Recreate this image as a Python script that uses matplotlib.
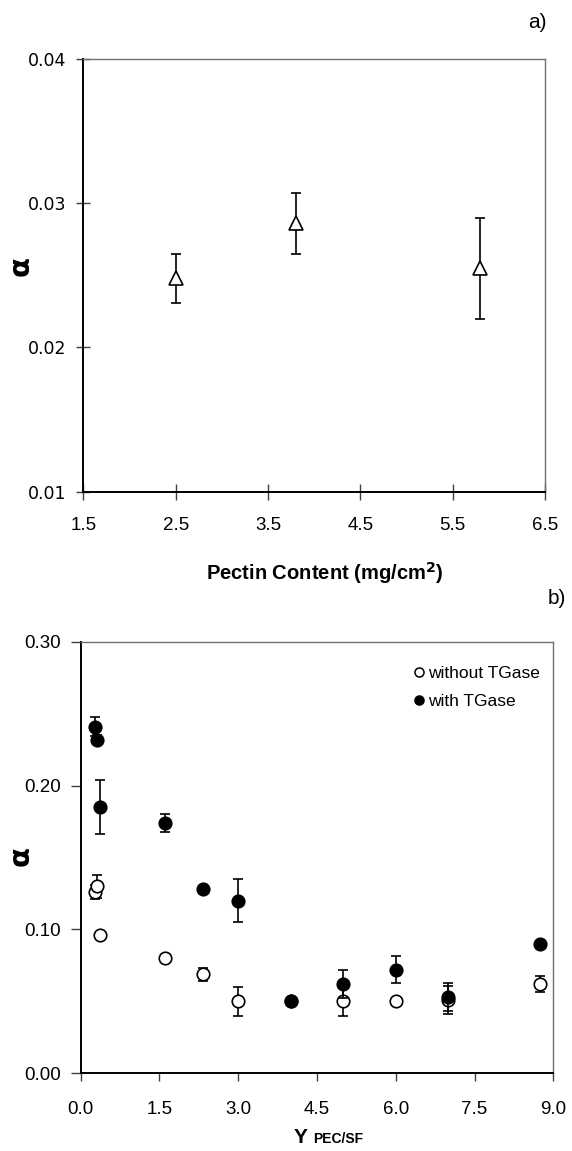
import matplotlib
matplotlib.use("Agg")
import matplotlib.pyplot as plt
from matplotlib.lines import Line2D

plt.rcParams['font.family'] = ['Liberation Sans', 'DejaVu Sans']

# (a) alpha versus pectin content
pectin_content = [2.5, 3.8, 5.8]
alpha_a = [0.0248, 0.0286, 0.0255]
alpha_a_err = [0.0017, 0.0021, 0.0035]

# (b) alpha versus Y_PEC/SF, with and without TGase
y_ratio = [0.28, 0.31, 0.36, 1.61, 2.32, 3.0, 4.0, 5.0, 6.0, 7.0, 8.75]
alpha_without = [0.126, 0.130, 0.096, 0.080, 0.069, 0.050, 0.050, 0.050, 0.050, 0.051, 0.062]
alpha_without_err = [0.005, 0.008, 0.002, 0.002, 0.0045, 0.010, 0.002, 0.010, 0.002, 0.010, 0.0055]
alpha_with = [0.241, 0.232, 0.185, 0.174, 0.128, 0.120, 0.050, 0.062, 0.072, 0.053, 0.090]
alpha_with_err = [0.0065, 0.003, 0.019, 0.0065, 0.002, 0.015, 0.002, 0.010, 0.0095, 0.010, 0.002]

xticks_a = [1.5, 2.5, 3.5, 4.5, 5.5, 6.5]
yticks_a = [0.01, 0.02, 0.03, 0.04]
xticks_b = [0.0, 1.5, 3.0, 4.5, 6.0, 7.5, 9.0]
yticks_b = [0.00, 0.10, 0.20, 0.30]

W, H = 572, 1151
fig = plt.figure(figsize=(W / 100, H / 100), dpi=100)


def px_axes(left, top, right, bottom):
    return fig.add_axes([left / W, 1 - bottom / H, (right - left) / W, (bottom - top) / H])


def style_frame(ax):
    for s in ('left', 'bottom'):
        ax.spines[s].set_color('black')
        ax.spines[s].set_linewidth(1.4)
    for s in ('top', 'right'):
        ax.spines[s].set_color('#707070')
        ax.spines[s].set_linewidth(1.0)


# ---------- panel a ----------
ax1 = px_axes(83.3, 59, 545, 491.7)
ax1.errorbar(pectin_content, alpha_a, yerr=alpha_a_err, fmt='^', ms=10,
             mfc='white', mec='black', mew=1.2, ecolor='black', elinewidth=1.2,
             capsize=3.8, capthick=1.2, color='black')
ax1.set_xlim(1.5, 6.5)
ax1.set_ylim(0.01, 0.04)
ax1.set_xticks(xticks_a)
ax1.set_xticklabels([f"{v:.1f}" for v in xticks_a])
ax1.set_yticks(yticks_a)
ax1.set_yticklabels([f"{v:.2f}" for v in yticks_a], family='DejaVu Sans', fontsize=12.5)
ax1.tick_params(axis='x', direction='inout', length=11, width=1, color='#404040',
                labelsize=13.5, pad=13)
ax1.tick_params(axis='y', direction='inout', length=10, width=1, color='#404040', pad=7)
style_frame(ax1)
fig.text(22 / W, 1 - 268 / H, r'$\mathbf{\alpha}$', fontsize=21, rotation=90,
         ha='center', va='center')
fig.text(325 / W, 1 - 580 / H, r'Pectin Content (mg/cm$^\mathbf{2}$)', fontsize=14.5,
         fontweight='bold', ha='center', va='baseline')
fig.text(537 / W, 1 - 22 / H, 'a)', fontsize=15, ha='center', va='center')

# ---------- panel b ----------
ax2 = px_axes(80.7, 641.7, 553.3, 1073.3)
ax2.errorbar(y_ratio, alpha_without, yerr=alpha_without_err, fmt='o', ms=9,
             mfc='white', mec='black', mew=1.2, ecolor='black', elinewidth=1.2,
             capsize=3.8, capthick=1.2, color='black', zorder=2)
ax2.errorbar(y_ratio, alpha_with, yerr=alpha_with_err, fmt='o', ms=9,
             mfc='black', mec='black', mew=1.2, ecolor='black', elinewidth=1.2,
             capsize=3.8, capthick=1.2, color='black', zorder=3)
ax2.set_xlim(0, 9)
ax2.set_ylim(0, 0.30)
ax2.set_xticks(xticks_b)
ax2.set_xticklabels([f"{v:.1f}" for v in xticks_b])
ax2.set_yticks(yticks_b)
ax2.set_yticklabels([f"{v:.2f}" for v in yticks_b])
ax2.tick_params(axis='x', direction='out', length=6, width=1, color='#404040',
                labelsize=13.5, pad=14)
ax2.tick_params(axis='y', direction='out', length=7, width=1, color='#404040',
                labelsize=13.5, pad=7)
style_frame(ax2)
fig.text(22 / W, 1 - 858 / H, r'$\mathbf{\alpha}$', fontsize=21, rotation=90,
         ha='center', va='center')

handles = [Line2D([], [], ls='none', marker='o', ms=6.5, mfc='white', mec='black', mew=1.1),
           Line2D([], [], ls='none', marker='o', ms=6.5, mfc='black', mec='black', mew=1.1)]
ax2.legend(handles, ['without TGase', 'with TGase'], loc='upper right',
           bbox_to_anchor=(0.972, 0.945), frameon=False, fontsize=12.5,
           handlelength=0.6, handletextpad=0.25, labelspacing=0.75,
           borderpad=0, borderaxespad=0)

fig.text(294 / W, 1 - 1143 / H, 'Y', fontsize=15, fontweight='bold', ha='left', va='baseline')
fig.text(313 / W, 1 - 1143 / H, 'PEC/SF', fontsize=10, fontweight='bold', ha='left', va='baseline')
fig.text(557 / W, 1 - 598 / H, 'b)', fontsize=15, ha='center', va='center')

fig.savefig('out.png', dpi=100)
